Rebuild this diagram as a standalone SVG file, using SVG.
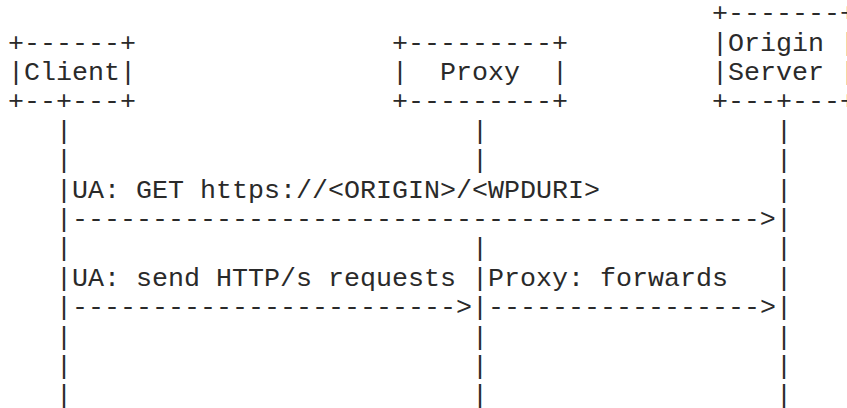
<svg xmlns="http://www.w3.org/2000/svg" width="847" height="408" viewBox="0 0 847 408">
  <style>
    text { font-family: "Liberation Mono", "Courier New", monospace; font-size: 26.67px; fill: #2a2a2a; white-space: pre; }
  </style>
  <rect width="847" height="408" fill="#ffffff"/>

  <!-- Character grid: column c starts at x = 8 + 16c, row r baseline at y = 21.2 + 29.4r -->

  <g id="client">
    <text x="8" y="50.6" xml:space="preserve">+------+</text>
    <text x="8" y="80" xml:space="preserve">|Client|</text>
    <text x="8" y="109.4" xml:space="preserve">+--+---+</text>
  </g>

  <g id="proxy">
    <text x="392" y="50.6" xml:space="preserve">+---------+</text>
    <text x="392" y="80" xml:space="preserve">|  Proxy  |</text>
    <text x="392" y="109.4" xml:space="preserve">+---------+</text>
  </g>

  <g id="origin-server">
    <text x="712" y="21.2" xml:space="preserve">+-------+</text>
    <text x="712" y="50.6" xml:space="preserve">|Origin |</text>
    <text x="712" y="80" xml:space="preserve">|Server |</text>
    <text x="712" y="109.4" xml:space="preserve">+---+---+</text>
  </g>

  <g id="connectors">
    <!-- lifelines -->
    <g id="lifeline-client">
      <text x="56" y="138.8">|</text>
      <text x="56" y="168.2">|</text>
      <text x="56" y="197.6">|</text>
      <text x="56" y="227">|</text>
      <text x="56" y="256.4">|</text>
      <text x="56" y="285.8">|</text>
      <text x="56" y="315.2">|</text>
      <text x="56" y="344.6">|</text>
      <text x="56" y="374">|</text>
      <text x="56" y="403.4">|</text>
    </g>
    <g id="lifeline-proxy">
      <text x="472" y="138.8">|</text>
      <text x="472" y="168.2">|</text>
      <text x="472" y="256.4">|</text>
      <text x="472" y="285.8">|</text>
      <text x="472" y="315.2">|</text>
      <text x="472" y="344.6">|</text>
      <text x="472" y="374">|</text>
      <text x="472" y="403.4">|</text>
    </g>
    <g id="lifeline-origin">
      <text x="776" y="138.8">|</text>
      <text x="776" y="168.2">|</text>
      <text x="776" y="197.6">|</text>
      <text x="776" y="227">|</text>
      <text x="776" y="256.4">|</text>
      <text x="776" y="285.8">|</text>
      <text x="776" y="315.2">|</text>
      <text x="776" y="344.6">|</text>
      <text x="776" y="374">|</text>
      <text x="776" y="403.4">|</text>
    </g>

    <!-- messages -->
    <g id="msg-get">
      <text x="72" y="197.6">UA: GET https://&lt;ORIGIN&gt;/&lt;WPDURI&gt;</text>
      <text x="72" y="227">-------------------------------------------&gt;</text>
    </g>
    <g id="msg-requests">
      <text x="72" y="285.8">UA: send HTTP/s requests</text>
      <text x="72" y="315.2">------------------------&gt;</text>
    </g>
    <g id="msg-forwards">
      <text x="488" y="285.8">Proxy: forwards</text>
      <text x="488" y="315.2">-----------------&gt;</text>
    </g>
  </g>
</svg>
